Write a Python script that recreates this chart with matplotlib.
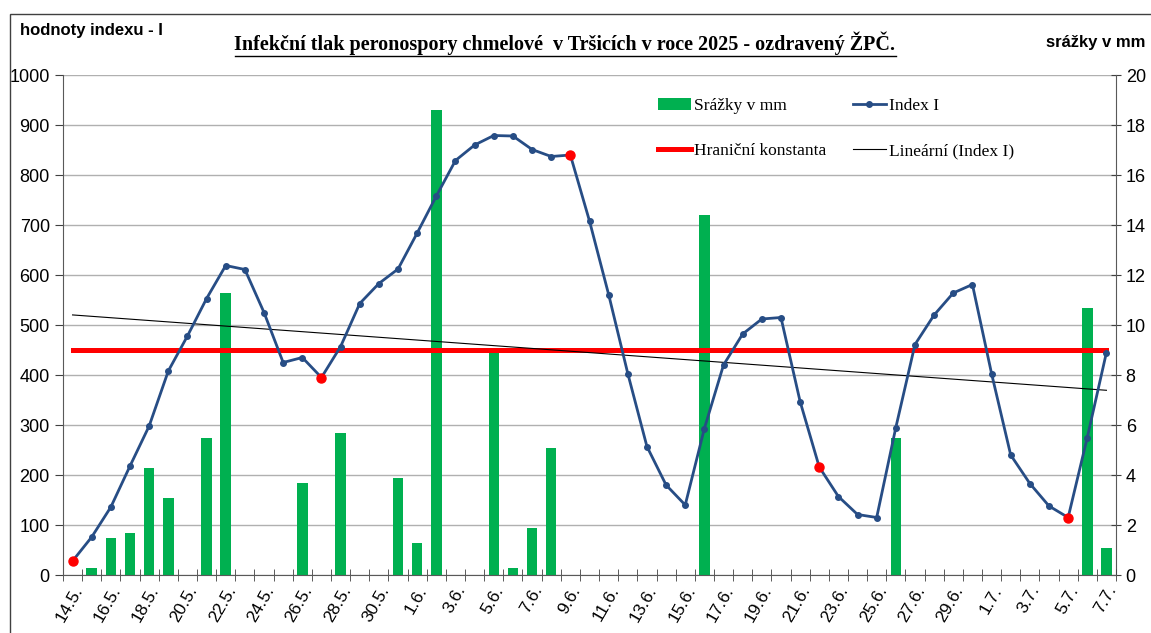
import numpy as np
import matplotlib
matplotlib.use("Agg")
import matplotlib.pyplot as plt
from matplotlib.patches import Rectangle

# dny 14.5. - 7.7.
dny = ["14.5.", "15.5.", "16.5.", "17.5.", "18.5.", "19.5.", "20.5.", "21.5.", "22.5.", "23.5.",
       "24.5.", "25.5.", "26.5.", "27.5.", "28.5.", "29.5.", "30.5.", "31.5.",
       "1.6.", "2.6.", "3.6.", "4.6.", "5.6.", "6.6.", "7.6.", "8.6.", "9.6.", "10.6.",
       "11.6.", "12.6.", "13.6.", "14.6.", "15.6.", "16.6.", "17.6.", "18.6.", "19.6.", "20.6.",
       "21.6.", "22.6.", "23.6.", "24.6.", "25.6.", "26.6.", "27.6.", "28.6.", "29.6.", "30.6.",
       "1.7.", "2.7.", "3.7.", "4.7.", "5.7.", "6.7.", "7.7."]

index_i = [28, 76, 136, 218, 298, 408, 478, 553, 619, 611,
           525, 425, 435, 395, 457, 543, 583, 612,
           684, 758, 829, 860, 879, 878, 851, 837, 840, 708,
           561, 403, 257, 180, 140, 293, 420, 482, 512, 515,
           347, 216, 157, 121, 115, 295, 461, 520, 564, 581,
           403, 240, 183, 138, 115, 275, 445]

srazky = [0, 0.3, 1.5, 1.7, 4.3, 3.1, 0, 5.5, 11.3, 0,
          0, 0, 3.7, 0, 5.7, 0, 0, 3.9,
          1.3, 18.6, 0, 0, 9.0, 0.3, 1.9, 5.1, 0, 0,
          0, 0, 0, 0, 0, 14.4, 0, 0, 0, 0,
          0, 0, 0, 0, 0, 5.5, 0, 0, 0, 0,
          0, 0, 0, 0, 0, 10.7, 1.1]

hranicni_konstanta = 450
cervene_body = [0, 13, 26, 39, 52]

x = np.arange(len(dny))
zelena = "#00B050"
modra = "#274D85"

fig = plt.figure(figsize=(11.51, 6.33), dpi=100)
ax = fig.add_axes([63 / 1151, 1 - 575 / 633, (1116 - 63) / 1151, 500 / 633])
ax2 = ax.twinx()
ax.set_zorder(ax2.get_zorder() + 1)
ax.patch.set_visible(False)

# srazky - prava osa
sr = np.array(srazky)
m = sr > 0
ax2.bar(x[m], sr[m], width=0.55, color=zelena, linewidth=0, label="Srážky v mm")
ax2.set_ylim(0, 20)
ax2.set_yticks(range(0, 21, 2))
ax2.yaxis.grid(True, color="#b0b0b0", linewidth=1)
ax2.set_axisbelow(True)

# index I
ax.plot(x, index_i, color=modra, linewidth=2, marker="o", markersize=4,
        label="Index I", zorder=4)
ax.plot(x[cervene_body], np.array(index_i)[cervene_body], "o", color="red",
        markersize=6.5, zorder=5)
ax.plot(x, [hranicni_konstanta] * len(x), color="red", linewidth=3.6,
        label="Hraniční konstanta", zorder=3)
k, q = np.polyfit(x, index_i, 1)
ax.plot(x, k * x + q, color="black", linewidth=0.8, label="Lineární (Index I)", zorder=3)

ax.set_ylim(0, 1000)
ax.set_yticks(range(0, 1001, 100))
ax.set_xlim(-0.5, len(x) - 0.5)
ax.set_xticks(x[::2])
ax.set_xticklabels(dny[::2], rotation=60, ha="right", rotation_mode="anchor",
                   fontsize=12.5, family="Liberation Sans")
ax.set_xticks(np.arange(-0.5, len(x), 1), minor=True)
ax.tick_params(axis="x", which="major", length=0, pad=6)
ax.tick_params(axis="x", which="minor", length=8, direction="inout", color="#404040")
ax.tick_params(axis="y", length=6, direction="out", color="#404040", labelsize=13)
ax2.tick_params(axis="y", length=7, direction="inout", color="#404040", labelsize=13)
for t in ax.get_yticklabels() + ax2.get_yticklabels():
    t.set_family("Liberation Sans")

for a in (ax, ax2):
    a.spines["top"].set_visible(False)
    for s in ("left", "right", "bottom"):
        a.spines[s].set_color("#595959")
ax2.spines["left"].set_visible(False)
ax2.spines["bottom"].set_visible(False)
ax.spines["right"].set_visible(False)

h1, l1 = ax.get_legend_handles_labels()
h2, l2 = ax2.get_legend_handles_labels()
handles = [h2[0], h1[1], h1[0], h1[2]]
labels = [l2[0], l1[1], l1[0], l1[2]]
ax.legend(handles, labels, ncol=2, loc="upper left", bbox_to_anchor=(0.550, 0.985),
          frameon=False, prop={"family": "Liberation Serif", "size": 12.5},
          handlelength=1.9, handletextpad=0.2, columnspacing=1.5, labelspacing=1.65)

fig.text(20 / 1151, 1 - 31 / 633, "hodnoty indexu - I", fontsize=12, fontweight="bold",
         family="Liberation Sans", va="center")
fig.text(1145 / 1151, 1 - 42 / 633, "srážky v mm", fontsize=12, fontweight="bold",
         family="Liberation Sans", va="center", ha="right")
title = "Infekční tlak peronospory chmelové  v Tršicích v roce 2025 - ozdravený ŽPČ."
tt = fig.text(565 / 1151, 1 - 43 / 633, title, fontsize=14.5, fontweight="bold",
              family="Liberation Serif", va="center", ha="center")

fig.canvas.draw()
bb = tt.get_window_extent()
fig.add_artist(plt.Line2D([bb.x0 / 1151, bb.x1 / 1151], [(bb.y0 - 1) / 633] * 2,
                          transform=fig.transFigure, color="black", linewidth=1))

fig.add_artist(Rectangle((9.5 / 1151, -0.05), 1.2, 1 - 14 / 633 + 0.05,
                         transform=fig.transFigure, fill=False,
                         edgecolor="#404040", linewidth=1))

fig.savefig("out.png", dpi=100)
